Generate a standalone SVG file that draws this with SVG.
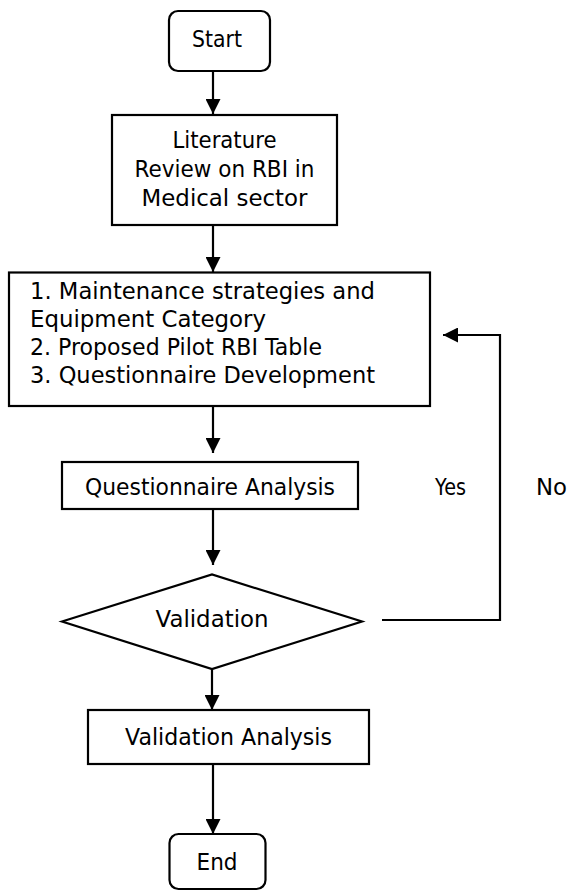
<svg xmlns="http://www.w3.org/2000/svg" width="571" height="892" viewBox="0 0 571 892">
<style>
.box{fill:#fff;stroke:#000;stroke-width:2.2}
.t{font-family:"DejaVu Sans","Liberation Sans",sans-serif;font-size:23px;fill:#000}
.c{text-anchor:middle}
.con{fill:none;stroke:#000;stroke-width:2.2}
</style>
<defs>
<marker id="ah" viewBox="0 0 15 15" markerWidth="15" markerHeight="15" refX="15" refY="7.5" orient="auto" markerUnits="userSpaceOnUse">
<path d="M0,0 L15,7.5 L0,15 z" fill="#000"/>
</marker>
</defs>
<rect width="571" height="892" fill="#fff"/>
<g id="connectors">
<path class="con" d="M213,71 V114" marker-end="url(#ah)"/>
<path class="con" d="M213,225 V272" marker-end="url(#ah)"/>
<path class="con" d="M213,406 V453" marker-end="url(#ah)"/>
<path class="con" d="M213,509 V565" marker-end="url(#ah)"/>
<path class="con" d="M212,669 V710" marker-end="url(#ah)"/>
<path class="con" d="M213,764 V834" marker-end="url(#ah)"/>
<path class="con" d="M382,620 H500 V335 H443" marker-end="url(#ah)"/>
<text class="t" x="435" y="495" textLength="31" lengthAdjust="spacingAndGlyphs">Yes</text>
<text class="t" x="536" y="495" textLength="31" lengthAdjust="spacingAndGlyphs">No</text>
</g>
<g id="start">
<rect class="box" x="169" y="11" width="101" height="60" rx="9"/>
<text class="t c" x="217" y="47" textLength="50" lengthAdjust="spacingAndGlyphs">Start</text>
</g>
<g id="literature">
<rect class="box" x="112" y="115" width="225" height="110"/>
<text class="t c" x="224.5" y="148" textLength="104" lengthAdjust="spacingAndGlyphs">Literature</text>
<text class="t c" x="224.5" y="177" textLength="180" lengthAdjust="spacingAndGlyphs">Review on RBI in</text>
<text class="t c" x="224.5" y="206" textLength="166" lengthAdjust="spacingAndGlyphs">Medical sector</text>
</g>
<g id="tasks">
<rect class="box" x="9" y="272.5" width="421" height="133.5"/>
<text class="t" x="30" y="299" textLength="345" lengthAdjust="spacingAndGlyphs">1. Maintenance strategies and</text>
<text class="t" x="30" y="327" textLength="236" lengthAdjust="spacingAndGlyphs">Equipment Category</text>
<text class="t" x="30" y="355" textLength="292" lengthAdjust="spacingAndGlyphs">2. Proposed Pilot RBI Table</text>
<text class="t" x="30" y="383" textLength="345" lengthAdjust="spacingAndGlyphs">3. Questionnaire Development</text>
</g>
<g id="questionnaire-analysis">
<rect class="box" x="62" y="462" width="296" height="47"/>
<text class="t c" x="210" y="495" textLength="250" lengthAdjust="spacingAndGlyphs">Questionnaire Analysis</text>
</g>
<g id="validation">
<polygon class="box" points="62,621.5 212,574.5 362,621.5 212,669"/>
<text class="t c" x="212" y="627" textLength="113" lengthAdjust="spacingAndGlyphs">Validation</text>
</g>
<g id="validation-analysis">
<rect class="box" x="88" y="710" width="281" height="54"/>
<text class="t c" x="228.5" y="745" textLength="207" lengthAdjust="spacingAndGlyphs">Validation Analysis</text>
</g>
<g id="end">
<rect class="box" x="169.5" y="834" width="96" height="55" rx="9"/>
<text class="t c" x="217" y="870" textLength="41" lengthAdjust="spacingAndGlyphs">End</text>
</g>
</svg>
